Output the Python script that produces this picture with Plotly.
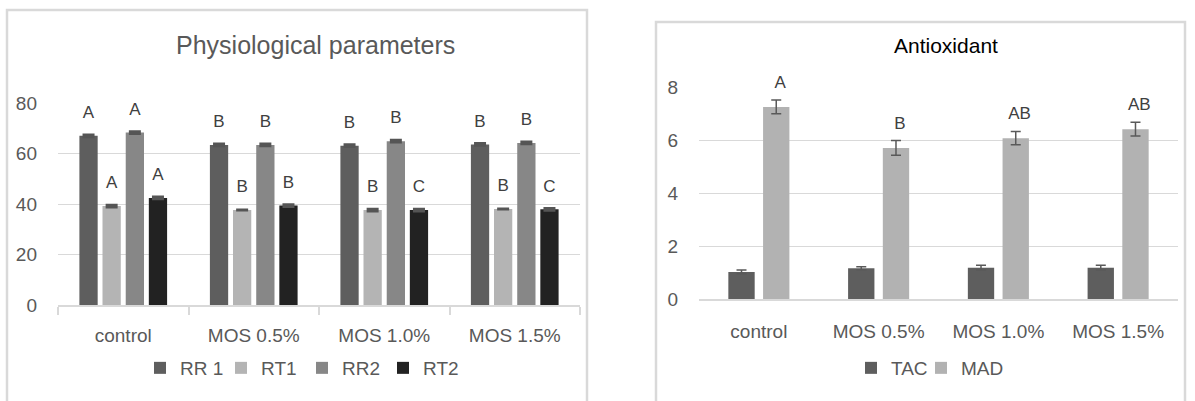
import plotly.graph_objects as go

# ---------------- data ----------------
categories = ["control", "MOS 0.5%", "MOS 1.0%", "MOS 1.5%"]

phys_series = ["RR 1", "RT1", "RR2", "RT2"]
rr1 = [67.0, 63.4, 63.1, 63.6]
rt1 = [39.2, 37.6, 37.6, 38.0]
rr2 = [68.3, 63.4, 64.9, 64.2]
rt2 = [42.4, 39.4, 37.6, 37.9]
rr1_err = [0.35, 0.35, 0.35, 0.35]
rt1_err = [0.35, 0.0, 0.35, 0.0]
rr2_err = [0.35, 0.35, 0.35, 0.35]
rt2_err = [0.35, 0.35, 0.35, 0.35]
rr1_letters = ["A", "B", "B", "B"]
rt1_letters = ["A", "B", "B", "B"]
rr2_letters = ["A", "B", "B", "B"]
rt2_letters = ["A", "B", "C", "C"]

tac = [1.02, 1.16, 1.18, 1.18]
tac_err = [0.07, 0.06, 0.09, 0.09]
mad = [7.25, 5.70, 6.07, 6.41]
mad_err = [0.26, 0.28, 0.25, 0.26]
mad_letters = ["A", "B", "AB", "AB"]

phys_colors = ["#5e5e5e", "#b4b4b4", "#878787", "#222222"]
tac_color = "#5e5e5e"
mad_color = "#b2b2b2"

# bar geometry (style)
phys_width = 0.14
phys_offsets = [-0.336, -0.159, 0.019, 0.196]
anti_width = 0.22
anti_offsets = [-0.255, 0.035]

W, H = 1195, 401
FONT = "Liberation Sans, Arial, sans-serif"
GREY = "#595959"

def px_x(p):
    return p / W

def px_y(p):
    return (H - p) / H

fig = go.Figure()

# ---------------- left chart ----------------
phys_vals = [rr1, rt1, rr2, rt2]
phys_errs = [rr1_err, rt1_err, rr2_err, rt2_err]
phys_letters = [rr1_letters, rt1_letters, rr2_letters, rt2_letters]
for name, vals, errs, col, off in zip(phys_series, phys_vals, phys_errs, phys_colors, phys_offsets):
    fig.add_trace(go.Bar(
        x=categories, y=vals, name=name, marker=dict(color=col, line=dict(width=0)),
        width=phys_width, offset=off,
        error_y=dict(type="data", array=errs, visible=True, color="#555555",
                     thickness=3, width=6),
        xaxis="x", yaxis="y", legend="legend", hoverinfo="skip",
    ))
for i, (vals, errs, lets) in enumerate(zip(phys_vals, phys_errs, phys_letters)):
    fig.add_trace(go.Scatter(
        x=categories, y=vals, text=lets,
        mode="markers+text", textposition="top center",
        marker=dict(size=20, opacity=0), offsetgroup="p%d" % i,
        textfont=dict(family=FONT, size=17, color="#404040"),
        xaxis="x", yaxis="y", showlegend=False, hoverinfo="skip", cliponaxis=False,
    ))

# ---------------- right chart ----------------
fig.add_trace(go.Bar(
    x=categories, y=tac, name="TAC", marker=dict(color=tac_color, line=dict(width=0)),
    width=anti_width, offset=anti_offsets[0],
    error_y=dict(type="data", array=tac_err, visible=True, color="#595959",
                 thickness=1.5, width=5),
    xaxis="x2", yaxis="y2", legend="legend2", hoverinfo="skip",
))
fig.add_trace(go.Bar(
    x=categories, y=mad, name="MAD", marker=dict(color=mad_color, line=dict(width=0)),
    width=anti_width, offset=anti_offsets[1],
    error_y=dict(type="data", array=mad_err, visible=True, color="#595959",
                 thickness=1.5, width=5),
    xaxis="x2", yaxis="y2", legend="legend3", hoverinfo="skip",
))
fig.add_trace(go.Scatter(
    x=categories, y=tac, text=["", "", "", ""], mode="markers+text",
    marker=dict(size=1, opacity=0), offsetgroup="a0",
    xaxis="x2", yaxis="y2", showlegend=False, hoverinfo="skip",
))
fig.add_trace(go.Scatter(
    x=categories, y=mad, text=mad_letters, mode="markers+text",
    textposition="top center", marker=dict(size=22, opacity=0), offsetgroup="a1",
    textfont=dict(family=FONT, size=17, color="#404040"),
    xaxis="x2", yaxis="y2", showlegend=False, hoverinfo="skip", cliponaxis=False,
))

axis_font = dict(family=FONT, size=19, color=GREY)
legend_font = dict(family=FONT, size=19, color=GREY)

fig.update_layout(
    width=W, height=H, margin=dict(l=0, r=0, t=0, b=0, pad=0, autoexpand=False),
    paper_bgcolor="white", plot_bgcolor="white",
    barmode="group",
    scattermode="group", scattergap=0.29,
    font=dict(family=FONT, color=GREY),
    xaxis=dict(domain=[px_x(58), px_x(580)], anchor="y", type="category",
               showline=True, linecolor="#d9d9d9", linewidth=1.5,
               ticks="outside", tickson="boundaries", ticklen=8, tickcolor="#d9d9d9",
               tickwidth=1.5, showgrid=False, tickfont=axis_font, ticklabelstandoff=12,
               automargin=False),
    yaxis=dict(domain=[px_y(305), px_y(103)], anchor="x", range=[0, 80], dtick=20,
               showgrid=True, gridcolor="#d9d9d9", gridwidth=1, zeroline=False,
               showline=False, tickfont=axis_font, ticklabelstandoff=20, automargin=False),
    xaxis2=dict(domain=[px_x(699), px_x(1178)], anchor="y2", type="category",
                showline=True, linecolor="#d9d9d9", linewidth=1.5, ticks="",
                showgrid=False, tickfont=axis_font, ticklabelstandoff=14, automargin=False),
    yaxis2=dict(domain=[px_y(299), px_y(87)], anchor="x2", range=[0, 8], dtick=2,
                showgrid=True, gridcolor="#d9d9d9", gridwidth=1, zeroline=False,
                showline=False, tickfont=axis_font, ticklabelstandoff=20, automargin=False),
    legend=dict(orientation="h", x=px_x(302), xanchor="center", y=px_y(368),
                yanchor="middle", font=legend_font,
                bgcolor="rgba(0,0,0,0)", itemwidth=30, entrywidth=36),
    legend2=dict(orientation="h", x=px_x(851), xanchor="left", y=px_y(368),
                 yanchor="middle", font=legend_font,
                 bgcolor="rgba(0,0,0,0)", itemwidth=30),
    legend3=dict(orientation="h", x=px_x(921), xanchor="left", y=px_y(368),
                 yanchor="middle", font=legend_font,
                 bgcolor="rgba(0,0,0,0)", itemwidth=30),
    shapes=[
        dict(type="rect", xref="paper", yref="paper", x0=px_x(7), x1=px_x(587),
             y0=-0.1, y1=px_y(10), line=dict(color="#d9d9d9", width=2.5), layer="below"),
        dict(type="rect", xref="paper", yref="paper", x0=px_x(656), x1=px_x(1185),
             y0=-0.1, y1=px_y(22), line=dict(color="#d9d9d9", width=2.5), layer="below"),
    ],
    annotations=[
        dict(text="Physiological parameters", xref="paper", yref="paper",
             x=px_x(315), y=px_y(45), xanchor="center", yanchor="middle",
             showarrow=False, font=dict(family=FONT, size=25, color=GREY)),
        dict(text="Antioxidant", xref="paper", yref="paper",
             x=px_x(946), y=px_y(45), xanchor="center", yanchor="middle",
             showarrow=False, font=dict(family=FONT, size=21, color="#000000")),
    ],
)

fig.write_html(
    "out.html",
    config={"displayModeBar": False},
    post_script="document.body.style.margin='0px';document.body.style.overflow='hidden';",
)
